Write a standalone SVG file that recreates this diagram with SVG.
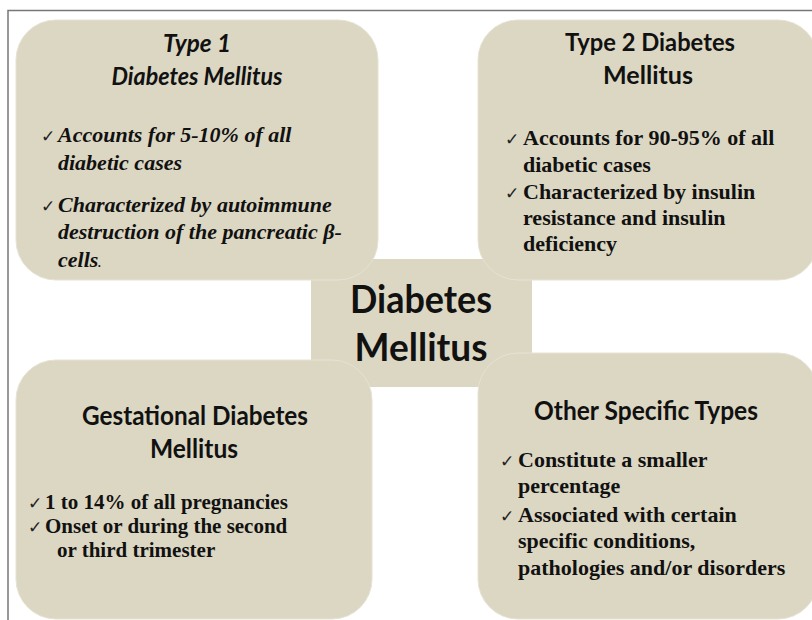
<svg xmlns="http://www.w3.org/2000/svg" width="812" height="620" viewBox="0 0 812 620">
<style>
.box{fill:#DCD7C3;stroke:#E6E2D4;stroke-width:1}
.ttl{font-family:Lato,"Open Sans","Liberation Sans",sans-serif;font-weight:bold;fill:#111;text-anchor:middle}
.bul{font-family:"Liberation Serif","Times New Roman",serif;font-weight:bold;fill:#111}
.it{font-style:italic}
.ck{font-family:"DejaVu Sans",sans-serif;font-weight:normal;font-style:normal;font-size:17px;fill:#222}
.frame{stroke:#777;stroke-width:1.5;fill:none}
</style>
<g id="frame">
<path class="frame" d="M8 620 V10.5 H812"/>
</g>
<g id="connectors"></g>
<g id="center">
<rect class="box" x="311" y="259" width="221" height="128" style="stroke:none"/>
</g>
<g id="type1">
<rect class="box" x="16" y="20" width="362" height="260" rx="40" ry="40"/>
<text class="ttl it" x="197" y="52" font-size="25" textLength="68" lengthAdjust="spacingAndGlyphs">Type 1</text>
<text class="ttl it" x="197" y="85" font-size="25" textLength="171" lengthAdjust="spacingAndGlyphs">Diabetes Mellitus</text>
<g class="bul it" font-size="22">
<text class="ck" x="41" y="142">✓</text>
<text x="58" y="142">Accounts for 5-10% of all</text>
<text x="58" y="170">diabetic cases</text>
<text class="ck" x="41" y="212">✓</text>
<text x="58" y="212">Characterized by autoimmune</text>
<text x="58" y="239">destruction of the pancreatic β-</text>
<text x="58" y="267">cells<tspan font-size="12">.</tspan></text>
</g>
</g>
<g id="type2">
<rect class="box" x="478" y="20" width="340" height="260" rx="40" ry="40"/>
<text class="ttl" x="650" y="51" font-size="25" textLength="170" lengthAdjust="spacingAndGlyphs">Type 2 Diabetes</text>
<text class="ttl" x="648" y="84" font-size="25" textLength="90" lengthAdjust="spacingAndGlyphs">Mellitus</text>
<g class="bul" font-size="22">
<text class="ck" x="505" y="145">✓</text>
<text x="523" y="145">Accounts for 90-95% of all</text>
<text x="523" y="172">diabetic cases</text>
<text class="ck" x="505" y="199">✓</text>
<text x="523" y="199">Characterized by insulin</text>
<text x="523" y="225">resistance and insulin</text>
<text x="523" y="251">deficiency</text>
</g>
</g>
<g id="gestational">
<rect class="box" x="16" y="360" width="356" height="259" rx="40" ry="40"/>
<text class="ttl" x="195" y="425" font-size="26" textLength="226" lengthAdjust="spacingAndGlyphs">Gestational Diabetes</text>
<text class="ttl" x="194" y="458" font-size="26" textLength="88" lengthAdjust="spacingAndGlyphs">Mellitus</text>
<g class="bul" font-size="21">
<text class="ck" x="28" y="509">✓</text>
<text x="45" y="509">1 to 14% of all pregnancies</text>
<text class="ck" x="28" y="533">✓</text>
<text x="45" y="533">Onset or during the second</text>
<text x="57" y="557">or third trimester</text>
</g>
</g>
<g id="other">
<rect class="box" x="478" y="353" width="340" height="266" rx="40" ry="40"/>
<text class="ttl" x="646" y="420" font-size="26" textLength="224" lengthAdjust="spacingAndGlyphs">Other Specific Types</text>
<g class="bul" font-size="22">
<text class="ck" x="500" y="467">✓</text>
<text x="518" y="467">Constitute a smaller</text>
<text x="518" y="493">percentage</text>
<text class="ck" x="500" y="522">✓</text>
<text x="518" y="522">Associated with certain</text>
<text x="518" y="548">specific conditions,</text>
<text x="518" y="575">pathologies and/or disorders</text>
</g>
</g>
<g id="center-label">
<text class="ttl" x="421" y="313" font-size="39" textLength="142" lengthAdjust="spacingAndGlyphs">Diabetes</text>
<text class="ttl" x="421" y="361" font-size="39" textLength="133" lengthAdjust="spacingAndGlyphs">Mellitus</text>
</g>
</svg>
